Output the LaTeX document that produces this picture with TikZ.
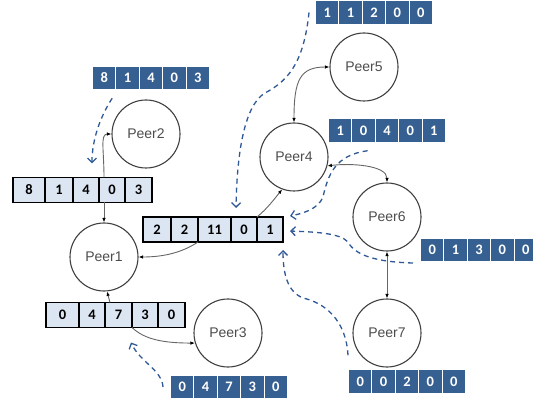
\documentclass[tikz,border=0pt]{standalone}
\usepackage{fontspec}
\setmainfont{Liberation Sans}
\newfontfamily\cellfont{Carlito}
\usetikzlibrary{arrows.meta}
\definecolor{bluecell}{RGB}{55,96,146}
\definecolor{dashblue}{RGB}{46,89,150}
\definecolor{lightcell}{RGB}{220,230,242}
\begin{document}
\begin{tikzpicture}[x=1pt,y=-1pt,
 peer/.style={circle, draw=black!75, line width=1.1pt, minimum size=68pt, inner sep=0pt, font=\fontsize{14}{14}\selectfont, text=black!70},
 lcell/.style={draw=black, line width=1.6pt, fill=lightcell, minimum height=25pt, inner sep=0pt, outer sep=0pt, anchor=west, font=\cellfont\bfseries\fontsize{14.5}{14.5}\selectfont},
 bcell/.style={fill=bluecell, text=white, minimum width=22.4pt, minimum height=22.5pt, inner sep=0pt, outer sep=0pt, anchor=west, font=\cellfont\bfseries\fontsize{14.5}{14.5}\selectfont},
 conn/.style={draw=black!60, line width=0.9pt, -{Latex[length=4.5pt,width=3.5pt,color=black]}},
 conn2/.style={draw=black!60, line width=0.9pt, {Latex[length=4.5pt,width=3.5pt,color=black]}-{Latex[length=4.5pt,width=3.5pt,color=black]}},
 flow/.style={draw=dashblue, line width=1.3pt, dash pattern=on 5pt off 4pt, -{Straight Barb[length=4.5pt,width=9pt]}}
]
\useasboundingbox (0,0) rectangle (533,398);

% peers
\node[peer] (p1) at (104,257) {Peer1};
\node[peer] (p2) at (146,134) {Peer2};
\node[peer] (p3) at (228,333) {Peer3};
\node[peer] (p4) at (294,157) {Peer4};
\node[peer] (p5) at (364,67) {Peer5};
\node[peer] (p6) at (387,217) {Peer6};
\node[peer] (p7) at (387,333) {Peer7};

% light arrays
\node[lcell, minimum width=32pt] (A1) at (13,190) {8};
\node[lcell, minimum width=28pt] (A2) at (A1.east) {1};
\node[lcell, minimum width=26pt] (A3) at (A2.east) {4};
\node[lcell, minimum width=26pt] (A4) at (A3.east) {0};
\node[lcell, minimum width=27pt] (A5) at (A4.east) {3};

\node[lcell, minimum width=28pt] (B1) at (143,229.5) {2};
\node[lcell, minimum width=27pt] (B2) at (B1.east) {2};
\node[lcell, minimum width=33pt] (B3) at (B2.east) {11};
\node[lcell, minimum width=26pt] (B4) at (B3.east) {0};
\node[lcell, minimum width=26pt] (B5) at (B4.east) {1};

\node[lcell, minimum width=33pt] (C1) at (46,315) {0};
\node[lcell, minimum width=26pt] (C2) at (C1.east) {4};
\node[lcell, minimum width=27pt] (C3) at (C2.east) {7};
\node[lcell, minimum width=26pt] (C4) at (C3.east) {3};
\node[lcell, minimum width=27pt] (C5) at (C4.east) {0};

% blue arrays
\node[bcell] (bA1) at (93,78) {8};
\node[bcell] (bA2) at ([xshift=1pt]bA1.east) {1};
\node[bcell] (bA3) at ([xshift=1pt]bA2.east) {4};
\node[bcell] (bA4) at ([xshift=1pt]bA3.east) {0};
\node[bcell] (bA5) at ([xshift=1pt]bA4.east) {3};

\node[bcell] (bB1) at (316,12.5) {1};
\node[bcell] (bB2) at ([xshift=1pt]bB1.east) {1};
\node[bcell] (bB3) at ([xshift=1pt]bB2.east) {2};
\node[bcell] (bB4) at ([xshift=1pt]bB3.east) {0};
\node[bcell] (bB5) at ([xshift=1pt]bB4.east) {0};

\node[bcell] (bC1) at (329,130.5) {1};
\node[bcell] (bC2) at ([xshift=1pt]bC1.east) {0};
\node[bcell] (bC3) at ([xshift=1pt]bC2.east) {4};
\node[bcell] (bC4) at ([xshift=1pt]bC3.east) {0};
\node[bcell] (bC5) at ([xshift=1pt]bC4.east) {1};

\node[bcell] (bD1) at (421,250) {0};
\node[bcell] (bD2) at ([xshift=1pt]bD1.east) {1};
\node[bcell] (bD3) at ([xshift=1pt]bD2.east) {3};
\node[bcell] (bD4) at ([xshift=1pt]bD3.east) {0};
\node[bcell] (bD5) at ([xshift=1pt]bD4.east) {0};

\node[bcell] (bE1) at (349,381.5) {0};
\node[bcell] (bE2) at ([xshift=1pt]bE1.east) {0};
\node[bcell] (bE3) at ([xshift=1pt]bE2.east) {2};
\node[bcell] (bE4) at ([xshift=1pt]bE3.east) {0};
\node[bcell] (bE5) at ([xshift=1pt]bE4.east) {0};

\node[bcell] (bF1) at (171,387) {0};
\node[bcell] (bF2) at ([xshift=1pt]bF1.east) {4};
\node[bcell] (bF3) at ([xshift=1pt]bF2.east) {7};
\node[bcell] (bF4) at ([xshift=1pt]bF3.east) {3};
\node[bcell] (bF5) at ([xshift=1pt]bF4.east) {0};

% gray connectors
\draw[conn] ([xshift=-8pt]A4.north) .. controls (104,150) and (100,134) .. (p2.west);
\draw[conn] ([xshift=-8pt]A4.south) -- (p1.north);
\draw[conn] (B3.south west) .. controls (180,254) and (160,257) .. (p1.east);
\draw[conn] (B4.north east) .. controls (268,208) and (275,198) .. (p4.250);
\draw[conn2] (p4.north) .. controls (294,80) and (300,67) .. (p5.west);
\draw[conn2] (p4.345) .. controls (350,163) and (387,165) .. (p6.north);
\draw[conn] ([xshift=5pt]C3.north west) -- (p1.275);
\draw[conn] (C3.south east) .. controls (145,340) and (165,343) .. (p3.197);
\draw[conn2] (p6.south) -- (p7.north);

% dashed flows
\draw[flow] ([shift={(8,9)}]bA1.south) .. controls (100,117) and (92,140) .. ([shift={(6,-14)}]A3.north);
\draw[flow] ([xshift=-7pt]bB1.west) .. controls (304,60) and (290,80) .. (265,93)
   .. controls (245,105) and (237,150) .. ([shift={(-8,-9)}]B4.north);
\draw[flow] ([shift={(4,9)}]bC2.south) .. controls (335,155) and (328,175) .. (323,197)
   .. controls (318,210) and (300,214) .. ([shift={(7,-13.5)}]B5.east);
\draw[flow] ([shift={(-8,13)}]bD1.west) .. controls (375,262) and (355,255) .. (348,242)
   .. controls (340,233) and (315,232) .. ([shift={(7,1.5)}]B5.east);
\draw[flow] ([shift={(-1,-15)}]bE1.north west) .. controls (346,320) and (325,303) .. (303,298)
   .. controls (288,292) and (283,275) .. ([shift={(0,8)}]B5.south east);
\draw[flow] ([xshift=-8pt]bF1.west) .. controls (162,370) and (140,362) .. ([shift={(-1,15)}]C3.south east);
\end{tikzpicture}
\end{document}
